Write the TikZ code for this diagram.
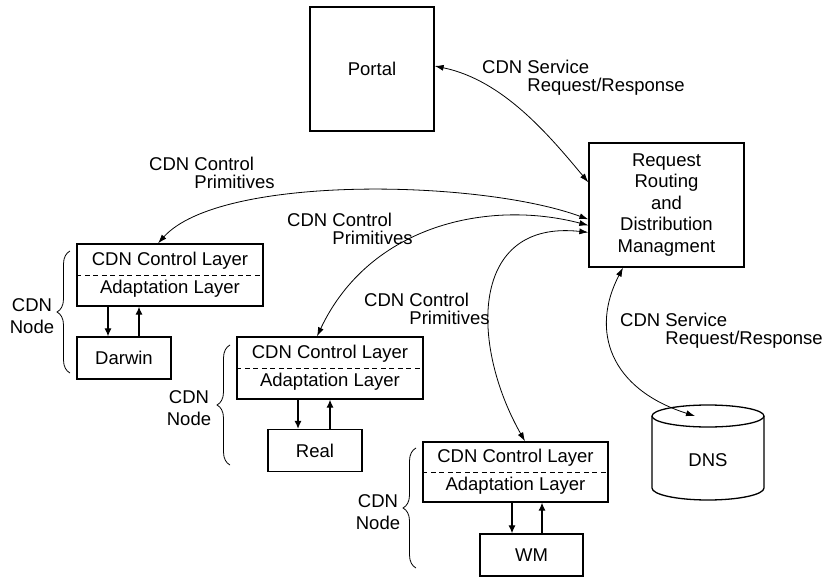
\documentclass[tikz,border=0pt]{standalone}
\usepackage{fontspec}
\setmainfont{Liberation Sans}
\usetikzlibrary{arrows.meta,decorations.pathreplacing}

\begin{document}
\begin{tikzpicture}[x=1pt,y=-1pt,
  box/.style={draw, line width=1.3pt, inner sep=0pt},
  layerbox/.style={box, minimum height=62pt, align=center,
    font=\fontsize{18.5}{28}\selectfont},
  appbox/.style={box, minimum height=42pt, font=\fontsize{18.5}{22}\selectfont},
  lbl/.style={align=left, inner sep=0pt, anchor=north west,
    font=\fontsize{18.5}{17.5}\selectfont},
  nodelbl/.style={align=center, inner sep=0pt, font=\fontsize{18.5}{22}\selectfont},
  link/.style={line width=0.8pt, {Latex[length=9pt,width=6pt]}-{Latex[length=9pt,width=6pt]}},
  updown/.style={line width=1.2pt, -{Latex[length=8pt,width=7pt]}},
  layersep/.style={line width=0.9pt, dash pattern=on 5pt off 3.5pt},
  nodebrace/.style={line width=0.8pt, decorate, decoration={brace, amplitude=13pt}},
]
\useasboundingbox (0,0) rectangle (830,578);

% main boxes
\node[box, minimum width=124pt, minimum height=124pt, font=\fontsize{18.5}{22}\selectfont]
  (portal) at (372,69) {Portal};
\node[box, minimum width=155pt, minimum height=124pt, align=center,
  font=\fontsize{18.5}{21.5}\selectfont]
  (rr) at (666.5,205) {Request\\Routing\\and\\Distribution\\Managment};

% CDN nodes: layer box + application box
\node[layerbox, minimum width=186pt] (n1) at (170,275) {CDN Control Layer\\Adaptation Layer};
\node[appbox, minimum width=94pt] (darwin) at (124,358) {Darwin};
\node[layerbox, minimum width=186pt] (n2) at (330,368) {CDN Control Layer\\Adaptation Layer};
\node[appbox, minimum width=94pt] (real) at (315,450.5) {Real};
\node[layerbox, minimum width=185pt, minimum height=60pt] (n3) at (515.5,472) {CDN Control Layer\\Adaptation Layer};
\node[appbox, minimum width=103pt] (wm) at (531.5,555) {WM};

\draw[layersep] (n1.west) -- (n1.east);
\draw[layersep] (n2.west) -- (n2.east);
\draw[layersep] (n3.west) -- (n3.east);

\draw[updown] (n1.south -| 108,0) -- (darwin.north -| 108,0);
\draw[updown] (darwin.north -| 139,0) -- (n1.south -| 139,0);
\draw[updown] (n2.south -| 298,0) -- (real.north -| 298,0);
\draw[updown] (real.north -| 330,0) -- (n2.south -| 330,0);
\draw[updown] (n3.south -| 512,0) -- (wm.north -| 512,0);
\draw[updown] (wm.north -| 542,0) -- (n3.south -| 542,0);

% braces and node captions
\draw[nodebrace] (70,373) -- (70,251);
\draw[nodebrace] (230,465) -- (230,345);
\draw[nodebrace] (416,568) -- (416,448);
\node[nodelbl] (cap1) at (32,316) {CDN\\Node};
\node[nodelbl] (cap2) at (189,408) {CDN\\Node};
\node[nodelbl] (cap3) at (378,512) {CDN\\Node};

% DNS cylinder
\draw[line width=1.3pt] (708,416) ellipse [x radius=56, y radius=11];
\draw[line width=1.3pt] (652,416) -- (652,488)
  arc[start angle=180, end angle=0, x radius=56, y radius=12] -- (764,416);
\node[font=\fontsize{18.5}{22}\selectfont] (dns) at (708,460) {DNS};
\coordinate (dnstop) at (695,416);

% connector labels
\node[lbl] (svc1) at (482,60) {CDN Service\\\phantom{CDN }Request/Response};
\node[lbl] (svc2) at (620,313) {CDN Service\\\phantom{CDN }Request/Response};
\node[lbl] (ctl1) at (149,157) {CDN Control\\\phantom{CDN }Primitives};
\node[lbl] (ctl2) at (287,213) {CDN Control\\\phantom{CDN }Primitives};
\node[lbl] (ctl3) at (364,293) {CDN Control\\\phantom{CDN }Primitives};

% connectors
\draw[link] ([yshift=3pt]portal.east) .. controls +(68,14) and +(-40,-48) .. ([yshift=-40pt]rr.north west);
\draw[link] ([yshift=-77pt]rr.north west) .. controls +(-109,-40) and +(62,-69) .. ([xshift=-12pt]n1.north);
\draw[link] ([yshift=-83pt]rr.north west) .. controls +(-99,-26) and +(53,-112) .. ([xshift=-13pt]n2.north);
\draw[link] ([yshift=-90pt]rr.north west) .. controls +(-119,-13) and +(-55,-97) .. ([xshift=9.5pt]n3.north);
\draw[link] ([xshift=-43.5pt]rr.south) .. controls +(-33,63) and +(-85,-27) .. (dnstop);
\end{tikzpicture}
\end{document}
